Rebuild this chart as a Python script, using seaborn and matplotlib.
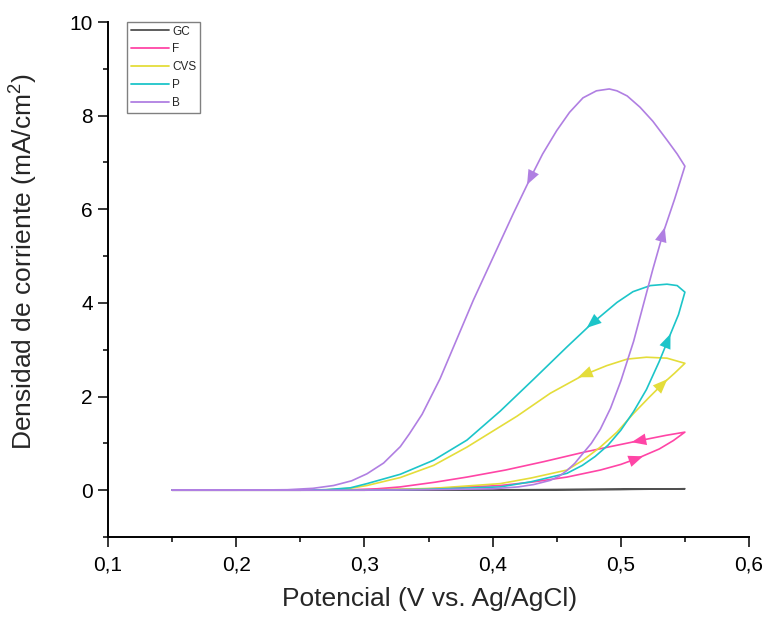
import numpy as np
import pandas as pd
import matplotlib
matplotlib.use("Agg")
import matplotlib.pyplot as plt
import seaborn as sns
from matplotlib.ticker import FuncFormatter, MultipleLocator

# ---------------- data ----------------
series = ["GC", "F", "CVS", "P", "B"]
colors = ["#505050", "#FF45A6", "#E4DD3A", "#1CC5C9", "#B07FE2"]

gc_fwd_x = [0.15, 0.20, 0.25, 0.30, 0.35, 0.40, 0.45, 0.50, 0.55]
gc_fwd_y = [0.0, 0.0, 0.0, 0.0, 0.003, 0.005, 0.01, 0.015, 0.03]
gc_rev_x = [0.55, 0.50, 0.45, 0.40, 0.35, 0.30, 0.25, 0.20, 0.15]
gc_rev_y = [0.03, 0.02, 0.012, 0.008, 0.005, 0.003, 0.0, 0.0, 0.0]

f_fwd_x = [0.15, 0.20, 0.25, 0.30, 0.35, 0.406, 0.43, 0.458, 0.484, 0.50, 0.513, 0.53, 0.541, 0.55]
f_fwd_y = [0.0, 0.0, 0.0, 0.0, 0.03, 0.10, 0.17, 0.28, 0.43, 0.55, 0.68, 0.88, 1.06, 1.24]
f_rev_x = [0.55, 0.535, 0.513, 0.49, 0.471, 0.44, 0.41, 0.38, 0.355, 0.328, 0.31, 0.29, 0.25, 0.20, 0.15]
f_rev_y = [1.24, 1.17, 1.05, 0.92, 0.81, 0.61, 0.43, 0.28, 0.17, 0.07, 0.03, 0.01, 0.0, 0.0, 0.0]

cvs_fwd_x = [0.15, 0.20, 0.25, 0.30, 0.354, 0.406, 0.43, 0.458, 0.4705, 0.484, 0.497, 0.51, 0.522, 0.533, 0.542, 0.55]
cvs_fwd_y = [0.0, 0.0, 0.0, 0.0, 0.04, 0.14, 0.26, 0.43, 0.64, 0.92, 1.24, 1.64, 1.98, 2.28, 2.50, 2.71]
cvs_rev_x = [0.55, 0.536, 0.52, 0.505, 0.489, 0.471, 0.445, 0.419, 0.38, 0.354, 0.328, 0.302, 0.289, 0.27, 0.25, 0.20, 0.15]
cvs_rev_y = [2.71, 2.82, 2.84, 2.80, 2.66, 2.46, 2.07, 1.58, 0.92, 0.53, 0.27, 0.10, 0.04, 0.01, 0.0, 0.0, 0.0]

p_fwd_x = [0.15, 0.20, 0.25, 0.30, 0.35, 0.406, 0.43, 0.458, 0.47, 0.48, 0.49, 0.50, 0.51, 0.52, 0.53, 0.537, 0.545, 0.55]
p_fwd_y = [0.0, 0.0, 0.0, 0.0, 0.02, 0.07, 0.18, 0.36, 0.53, 0.72, 0.96, 1.28, 1.68, 2.15, 2.75, 3.22, 3.75, 4.23]
p_rev_x = [0.55, 0.544, 0.536, 0.523, 0.5095, 0.497, 0.477, 0.458, 0.432, 0.406, 0.38, 0.354, 0.328, 0.302, 0.289, 0.27, 0.25, 0.20, 0.15]
p_rev_y = [4.23, 4.37, 4.40, 4.37, 4.24, 4.01, 3.55, 3.06, 2.37, 1.69, 1.07, 0.64, 0.34, 0.14, 0.05, 0.01, 0.0, 0.0, 0.0]

b_fwd_x = [0.15, 0.20, 0.25, 0.30, 0.35, 0.40, 0.42, 0.432, 0.445, 0.452, 0.458, 0.464, 0.47, 0.477, 0.484, 0.492, 0.50,
           0.51, 0.517, 0.525, 0.533, 0.542, 0.55]
b_fwd_y = [0.0, 0.0, 0.0, 0.0, 0.01, 0.03, 0.07, 0.12, 0.21, 0.30, 0.42, 0.57, 0.77, 1.00, 1.30, 1.75, 2.33,
           3.18, 3.90, 4.72, 5.49, 6.22, 6.92]
b_rev_x = [0.55, 0.544, 0.536, 0.525, 0.515, 0.505, 0.497, 0.491, 0.481, 0.4705, 0.46, 0.45, 0.439, 0.429, 0.416, 0.4005,
           0.385, 0.372, 0.359, 0.345, 0.335, 0.328, 0.315, 0.302, 0.29, 0.276, 0.26, 0.24, 0.20, 0.15]
b_rev_y = [6.92, 7.18, 7.48, 7.88, 8.18, 8.42, 8.53, 8.57, 8.53, 8.38, 8.07, 7.68, 7.18, 6.64, 5.90, 4.98,
           4.06, 3.22, 2.38, 1.62, 1.20, 0.93, 0.58, 0.35, 0.20, 0.10, 0.04, 0.01, 0.0, 0.0]

# direction-arrow locations (potential at which the arrow sits, forward / reverse)
arrow_fwd_x = {"F": 0.513, "CVS": 0.533, "P": 0.537, "B": 0.533}
arrow_rev_x = {"F": 0.513, "CVS": 0.471, "P": 0.477, "B": 0.429}

x_ticks = [0.1, 0.2, 0.3, 0.4, 0.5, 0.6]
y_ticks = [0, 2, 4, 6, 8, 10]

paths = {
    "GC": (gc_fwd_x, gc_fwd_y, gc_rev_x, gc_rev_y),
    "F": (f_fwd_x, f_fwd_y, f_rev_x, f_rev_y),
    "CVS": (cvs_fwd_x, cvs_fwd_y, cvs_rev_x, cvs_rev_y),
    "P": (p_fwd_x, p_fwd_y, p_rev_x, p_rev_y),
    "B": (b_fwd_x, b_fwd_y, b_rev_x, b_rev_y),
}

rows = []
for s in series:
    fx, fy, rx, ry = paths[s]
    xs = list(fx) + list(rx)[1:]
    ys = list(fy) + list(ry)[1:]
    for i, (x, y) in enumerate(zip(xs, ys)):
        rows.append({"E": x, "J": y, "serie": s, "k": i})
df = pd.DataFrame(rows)

# ---------------- figure ----------------
sns.set_style("ticks")
plt.rcParams["font.family"] = ["Liberation Sans", "DejaVu Sans"]
plt.rcParams["mathtext.default"] = "regular"

fig = plt.figure(figsize=(7.66, 6.18), dpi=100)
ax = fig.add_axes([108 / 766, 1 - 537 / 618, (749 - 108) / 766, (537 - 22) / 618])

palette = dict(zip(series, colors))
sns.lineplot(data=df, x="E", y="J", hue="serie", hue_order=series, palette=palette,
             sort=False, estimator=None, lw=1.2, ax=ax)
for ln in ax.get_lines():
    ln.set_solid_joinstyle("round")

ax.set_xlim(0.1, 0.6)
ax.set_ylim(-1, 10)
ax.set_xticks(x_ticks)
ax.set_yticks(y_ticks)
ax.xaxis.set_minor_locator(MultipleLocator(0.05))
ax.yaxis.set_minor_locator(MultipleLocator(1))
ax.xaxis.set_major_formatter(FuncFormatter(lambda v, p: f"{v:.1f}".replace(".", ",")))
ax.yaxis.set_major_formatter(FuncFormatter(lambda v, p: f"{v:.0f}"))
ax.tick_params(which="major", direction="out", length=7, width=1.1, labelsize=15, colors="black")
ax.tick_params(axis="x", which="major", pad=6)
ax.tick_params(axis="y", which="major", pad=4)
ax.tick_params(which="minor", direction="out", length=3.6, width=1.1, colors="black")
for side in ["top", "right"]:
    ax.spines[side].set_visible(False)
for side in ["left", "bottom"]:
    ax.spines[side].set_linewidth(1.4)
    ax.spines[side].set_color("black")

ax.set_xlabel("Potencial (V vs. Ag/AgCl)", fontsize=19)
ax.set_ylabel("Densidad de corriente (mA/cm$^2$)", fontsize=19)
ax.xaxis.set_label_coords(0.502, -0.097)
ax.yaxis.set_label_coords(-0.106, 0.535)


def add_arrow(xs, ys, x_at, color):
    xs = np.asarray(xs, float)
    ys = np.asarray(ys, float)
    for i in range(len(xs) - 1):
        a, b = xs[i], xs[i + 1]
        if min(a, b) <= x_at <= max(a, b) and a != b:
            t = (x_at - a) / (b - a)
            y_at = ys[i] + t * (ys[i + 1] - ys[i])
            p0 = ax.transData.transform((xs[i], ys[i]))
            p1 = ax.transData.transform((xs[i + 1], ys[i + 1]))
            d = p1 - p0
            d = d / np.hypot(*d)
            pc = ax.transData.transform((x_at, y_at))
            tip = ax.transData.inverted().transform(pc + d * 6)
            tail = ax.transData.inverted().transform(pc - d * 6)
            ax.annotate("", xy=tip, xytext=tail,
                        arrowprops=dict(arrowstyle="-|>,head_length=1.05,head_width=0.42",
                                        mutation_scale=10, color=color, lw=0.01,
                                        shrinkA=0, shrinkB=0))
            return


for s, c in zip(series, colors):
    if s in arrow_fwd_x:
        fx, fy, rx, ry = paths[s]
        add_arrow(fx, fy, arrow_fwd_x[s], c)
        add_arrow(rx, ry, arrow_rev_x[s], c)

leg = ax.legend(loc="upper left", bbox_to_anchor=(0.03, 1.0), fontsize=8.5,
                frameon=True, fancybox=False, edgecolor="#808080", framealpha=1,
                handlelength=3.2, handletextpad=0.3, labelspacing=0.5,
                borderpad=0.3, borderaxespad=0.0, title=None)
leg.get_frame().set_linewidth(1.0)
for line in leg.get_lines():
    line.set_linewidth(1.3)

fig.savefig("out.png", dpi=100)
